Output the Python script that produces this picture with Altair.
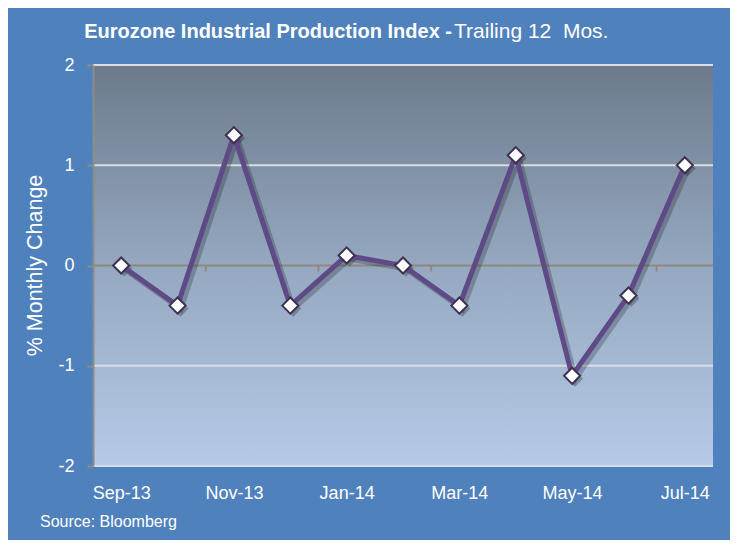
import json
import altair as alt
import pandas as pd

months = ["Sep-13", "Oct-13", "Nov-13", "Dec-13", "Jan-14", "Feb-14",
          "Mar-14", "Apr-14", "May-14", "Jun-14", "Jul-14"]
values = [0.0, -0.4, 1.3, -0.4, 0.1, 0.0, -0.4, 1.1, -1.1, -0.3, 1.0]
y_ticks = [-2, -1, 0, 1, 2]
grid_levels = [2, 1, -1, -2]
x_label_idx = [0, 2, 4, 6, 8, 10]
zero_tick_pos = [1.5, 3.5, 5.5, 7.5, 9.5]
title_bold = "Eurozone Industrial Production Index -"
title_normal = "Trailing 12\u00a0 Mos."
source_text = "Source: Bloomberg"
y_title = "% Monthly Change"

FONT = "Liberation Sans"
BG = "#4F81BD"
W, H = 620, 401

df = pd.DataFrame({"idx": list(range(len(months))), "month": months, "value": values})
grid_df = pd.DataFrame({"level": grid_levels})
zt_df = pd.DataFrame({"b": zero_tick_pos, "top": [0.0] * len(zero_tick_pos),
                      "bot": [-0.06] * len(zero_tick_pos)})

xs = alt.Scale(domain=[-0.5, len(months) - 0.5], nice=False, zero=False)
ys = alt.Scale(domain=[-2, 2], nice=False, zero=False)

label_expr = json.dumps(months) + "[datum.value]"

x_axis = alt.Axis(values=x_label_idx, labelExpr=label_expr, domain=False, ticks=False,
                  grid=False, labelColor="white", labelFont=FONT, labelFontSize=18,
                  labelPadding=18, title=None)
y_axis = alt.Axis(values=y_ticks, labelExpr="'' + datum.value", grid=False, domain=True,
                  domainColor="#8C8C8C", domainWidth=2, tickColor="#8C8C8C", tickSize=6,
                  tickWidth=2, labelColor="white", labelFont=FONT, labelFontSize=18,
                  labelPadding=13, title=y_title, titleColor="white", titleFont=FONT,
                  titleFontSize=21.5, titleFontWeight="normal", titleAngle=270, titleX=-58,
                  titleY=200, titleAlign="center", titleBaseline="middle", zindex=1)


def X(field):
    return alt.X(field, scale=xs, axis=x_axis, title=None)


def Y(field):
    return alt.Y(field, scale=ys, axis=y_axis, title=y_title)


gradient = {"gradient": "linear", "x1": 0, "y1": 0, "x2": 0, "y2": 1,
            "stops": [{"offset": 0, "color": "#6C7A8B"},
                      {"offset": 0.5, "color": "#95A8C0"},
                      {"offset": 1, "color": "#B5CAE7"}]}

bg_rect = alt.Chart(pd.DataFrame({"k": [0]})).mark_rect(fill=gradient).encode(
    x=alt.value(0), x2=alt.value(W), y=alt.value(0), y2=alt.value(H))

grid = alt.Chart(grid_df).mark_rule(color="#DADDE2", strokeWidth=2).encode(
    x=alt.value(0), x2=alt.value(W), y=Y("level:Q"))

zero_line = alt.Chart(pd.DataFrame({"z": [0]})).mark_rule(color="#8E897E", strokeWidth=2).encode(
    x=alt.value(0), x2=alt.value(W), y=Y("z:Q"))

zero_ticks = alt.Chart(zt_df).mark_rule(color="#8E897E", strokeWidth=2).encode(
    x=X("b:Q"), y=Y("top:Q"), y2="bot:Q")

base = alt.Chart(df)

shadow_line = base.mark_line(color="black", opacity=0.22, strokeWidth=6, xOffset=3, yOffset=3).encode(
    x=X("idx:Q"), y=Y("value:Q"))
shadow_pts = base.mark_point(shape="diamond", filled=True, color="black", opacity=0.25,
                             size=260, xOffset=3, yOffset=3).encode(
    x=X("idx:Q"), y=Y("value:Q"))

line = base.mark_line(color="#5E4A86", strokeWidth=5).encode(
    x=X("idx:Q"), y=Y("value:Q"))

pts = base.mark_point(shape="diamond", filled=True, fill="white", stroke="#3F3151",
                      strokeWidth=2, size=260, opacity=1).encode(
    x=X("idx:Q"), y=Y("value:Q"))

t1 = alt.Chart(pd.DataFrame({"t": [title_bold]})).mark_text(
    align="right", baseline="middle", font=FONT, fontSize=20, fontWeight="bold",
    color="white").encode(text="t:N", x=alt.value(359), y=alt.value(-33))
t2 = alt.Chart(pd.DataFrame({"t": [title_normal]})).mark_text(
    align="left", baseline="middle", font=FONT, fontSize=21, fontWeight="normal",
    color="white").encode(text="t:N", x=alt.value(361), y=alt.value(-33))
src = alt.Chart(pd.DataFrame({"t": [source_text]})).mark_text(
    align="left", baseline="middle", font=FONT, fontSize=16, color="white").encode(
    text="t:N", x=alt.value(-53), y=alt.value(457))

chart = alt.layer(bg_rect, grid, zero_line, zero_ticks, shadow_line, shadow_pts,
                  line, pts, t1, t2, src).properties(
    width=W, height=H,
    autosize=alt.AutoSizeParams(type="none"),
    padding={"left": 85, "top": 57, "right": 17, "bottom": 74},
    background=BG,
).configure_view(stroke=None)

chart.save("out.html", embed_options={"renderer": "svg", "actions": False})
